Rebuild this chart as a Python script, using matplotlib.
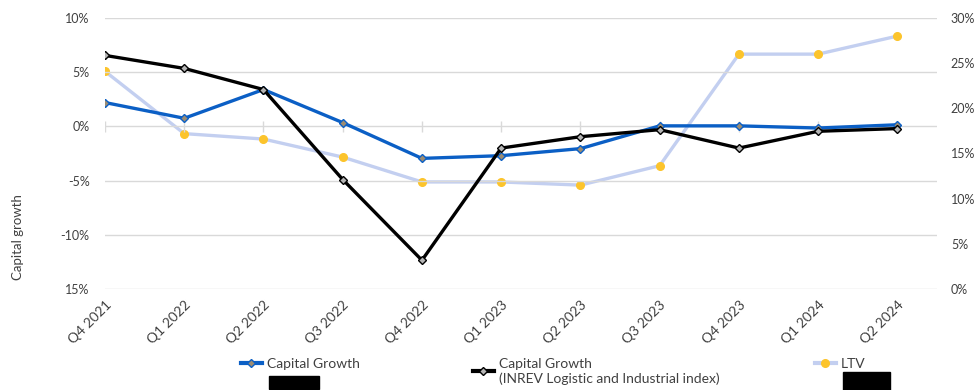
import matplotlib
matplotlib.use("Agg")
import matplotlib.pyplot as plt
from matplotlib.lines import Line2D
from matplotlib.patches import Rectangle

plt.rcParams['font.family'] = ['Lato', 'DejaVu Sans']

quarters = ["Q4 2021", "Q1 2022", "Q2 2022", "Q3 2022", "Q4 2022", "Q1 2023",
            "Q2 2023", "Q3 2023", "Q4 2023", "Q1 2024", "Q2 2024"]
capital_growth = [2.2, 0.75, 3.4, 0.35, -2.95, -2.7, -2.05, 0.05, 0.05, -0.15, 0.15]
inrev_growth = [6.55, 5.35, 3.4, -4.9, -12.35, -2.0, -0.95, -0.3, -2.0, -0.45, -0.2]
ltv = [24.1, 17.2, 16.6, 14.6, 11.85, 11.85, 11.5, 13.65, 26.0, 26.0, 28.0]

left_ticks = [10, 5, 0, -5, -10, -15]
left_labels = ["10%", "5%", "0%", "-5%", "-10%", "15%"]
right_ticks = [0, 5, 10, 15, 20, 25, 30]
right_labels = ["0%", "5%", "10%", "15%", "20%", "25%", "30%"]

c_blue = "#0b5fc5"
c_black = "#000000"
c_ltv = "#c3cff0"
c_yellow = "#fcc42c"
grid_c = "#d9d9d9"
txt_c = "#404040"

fig = plt.figure(figsize=(9.76, 3.9), dpi=100)
ax = fig.add_axes([105/976, 1-289/390, (937-105)/976, (289-18)/390])
ax2 = ax.twinx()
ax.set_zorder(ax2.get_zorder() + 1)
ax.patch.set_visible(False)

x = list(range(len(quarters)))

ax2.plot(x, ltv, color=c_ltv, lw=2.4, marker='o', ms=5.5, mfc=c_yellow, mec=c_yellow, zorder=3)
ax.plot(x, capital_growth, color=c_blue, lw=2.4, marker='D', ms=4, mfc="#9c8c72", mec=c_blue, mew=1, zorder=4)
ax.plot(x, inrev_growth, color=c_black, lw=2.4, marker='D', ms=4, mfc="#b5b5b5", mec=c_black, mew=1, zorder=5)

ax.set_xlim(0, len(quarters) - 0.5)
ax.set_ylim(-15, 10)
ax2.set_ylim(0, 30)

ax.set_yticks(left_ticks)
ax.set_yticklabels(left_labels)
ax2.set_yticks(right_ticks)
ax2.set_yticklabels(right_labels)

for a in (ax, ax2):
    for s in a.spines.values():
        s.set_visible(False)
    a.tick_params(axis='y', length=0, labelsize=9, colors=txt_c)

ax.tick_params(axis='y', pad=11)
ax2.tick_params(axis='y', pad=10)

ax.yaxis.grid(True, color=grid_c, lw=1)
ax.set_axisbelow(True)

# category tick marks on the zero line
ax.vlines(x, -0.5, 0.5, color=grid_c, lw=1, zorder=1)

ax.set_xticks(x)
ax.set_xticklabels(quarters, rotation=45, ha='right', va='top', rotation_mode='anchor',
                   fontsize=10, color=txt_c)
ax.tick_params(axis='x', length=0, pad=7)

fig.text(18/976, 1-237/390, "Capital growth", rotation=90, ha='center', va='center',
         fontsize=9.5, color=txt_c)

# legends
h1 = Line2D([], [], color=c_blue, lw=3, marker='D', ms=4, mfc="#9c8c72", mec=c_blue)
h2 = Line2D([], [], color=c_black, lw=3, marker='D', ms=4, mfc="#b5b5b5", mec=c_black)
h3 = Line2D([], [], color=c_ltv, lw=3, marker='o', ms=5.5, mfc=c_yellow, mec=c_yellow)

def add_leg(h, label, xa, ya):
    lg = fig.legend([h], [label], loc='upper left', bbox_to_anchor=(xa, ya), frameon=False,
                    fontsize=10, handlelength=1.5, handletextpad=0.35, borderpad=0, borderaxespad=0,
                    labelcolor=txt_c)
    return lg

add_leg(h1, "Capital Growth", 241/976, 1-358/390)
add_leg(h2, "Capital Growth\n(INREV Logistic and Industrial index)", 473/976, 1-358/390)
add_leg(h3, "LTV", 815/976, 1-358/390)

# redaction boxes
fig.patches.append(Rectangle((269/976, 1-389/390), 50/976, 13/390, transform=fig.transFigure,
                             color='black', zorder=10))
fig.patches.append(Rectangle((843/976, 1-390/390), 47/976, 18/390, transform=fig.transFigure,
                             color='black', zorder=10))

fig.savefig("out.png", dpi=100)
